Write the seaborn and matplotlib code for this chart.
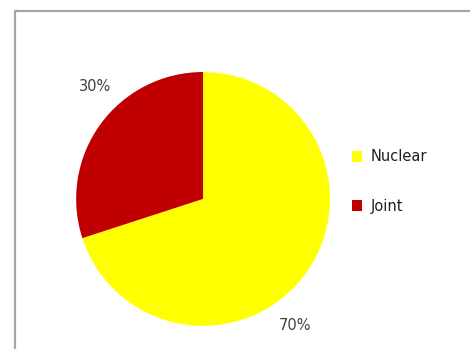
import matplotlib
matplotlib.use("Agg")
import matplotlib.pyplot as plt
import seaborn as sns
import numpy as np
from matplotlib.lines import Line2D
from matplotlib.patches import Patch

sns.set_theme(style="white")
plt.rcParams['font.family'] = ['DejaVu Sans']

categories = ["Nuclear", "Joint"]
values = [70, 30]
pct_labels = ["70%", "30%"]
colors = ["#FFFF00", "#C00000"]

fig = plt.figure(figsize=(4.70, 3.49), dpi=100)
fig.patch.set_facecolor("white")

# outer frame (top and left visible)
fig.add_artist(Line2D([14.5/470, 14.5/470], [0, 1 - 10.5/349], color="#a6a6a6", lw=1.6,
                      transform=fig.transFigure))
fig.add_artist(Line2D([14.5/470, 1], [1 - 10.5/349, 1 - 10.5/349], color="#a6a6a6", lw=1.6,
                      transform=fig.transFigure))

ax = fig.add_axes([0.162, 0.066, 0.540, 0.728])
wedges, texts = ax.pie(values, colors=colors, startangle=90, counterclock=False,
                       labels=pct_labels, labeldistance=1.22,
                       wedgeprops=dict(linewidth=0),
                       textprops=dict(fontsize=10.5, color="#404040"))
# Excel-like label placement
label_angles = {"70%": -54, "30%": 134}
for t in texts:
    a = np.deg2rad(label_angles[t.get_text()])
    t.set_position((1.23 * np.cos(a), 1.23 * np.sin(a)))
    t.set_ha("center")
    t.set_va("center")
ax.set_xlim(-1, 1)
ax.set_ylim(-1, 1)
ax.set_aspect("equal")

handles = [Patch(facecolor=c, edgecolor="none", label=l) for c, l in zip(colors, categories)]
leg = fig.legend(handles=handles, loc="center left", bbox_to_anchor=(0.720, 0.48),
                 frameon=False, fontsize=10.5, handlelength=0.75, handleheight=0.75,
                 handletextpad=0.55, labelspacing=2.35)
for t in leg.get_texts():
    t.set_color("#202020")

fig.savefig("out.png", dpi=100, facecolor="white")
